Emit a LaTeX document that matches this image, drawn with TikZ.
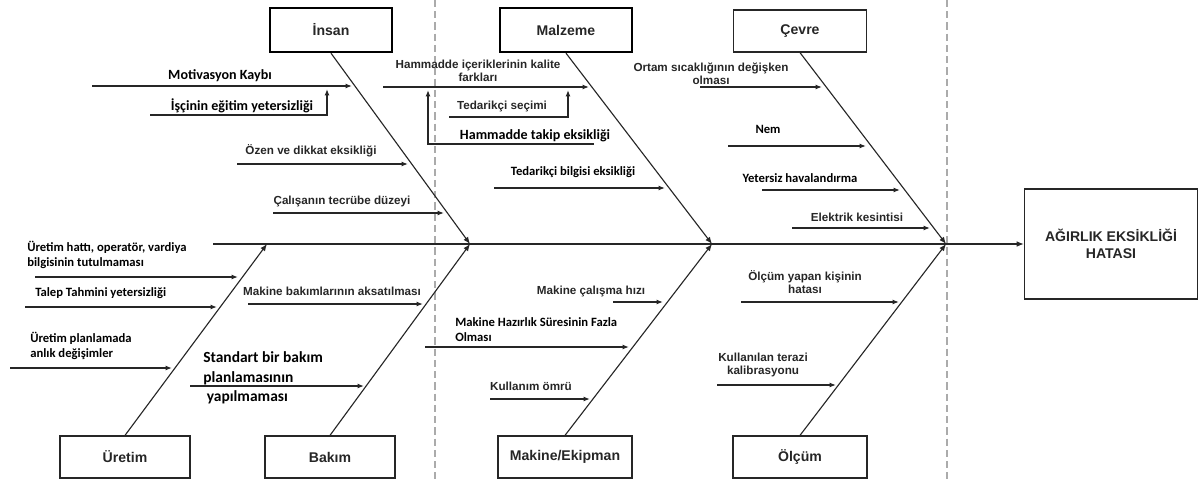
\documentclass[tikz,border=0pt]{standalone}
\usepackage{fontspec}
\setmainfont{Liberation Sans}
\newfontfamily\calfont{Carlito}
\usetikzlibrary{arrows.meta}
\definecolor{ink}{HTML}{262626}
\definecolor{guidegray}{HTML}{ABABAB}

\begin{document}
\begin{tikzpicture}[
  x=0.025cm, y=-0.025cm,
  headbox/.style={draw=black, line width=1.7pt, minimum height=1.1cm, font=\bfseries\fontsize{10}{12}\selectfont, text=ink},
  catbox/.style={draw=ink, line width=0.9pt, minimum height=1.05cm, font=\bfseries\fontsize{10}{12}\selectfont, text=ink},
  effect/.style={draw=ink, line width=0.9pt, minimum width=4.33cm, minimum height=2.75cm, align=center, font=\bfseries\fontsize{10}{12}\selectfont, text=ink},
  bone/.style={draw=ink, line width=0.8pt, -{Latex[length=5pt,width=4pt]}},
  arrow/.style={draw=ink, line width=1pt, -{Latex[length=4.5pt,width=3.5pt]}},
  lbl/.style={font=\bfseries\fontsize{8.3}{9.6}\selectfont, text=ink, align=center, inner sep=0pt},
  clbl/.style={font=\calfont\bfseries\fontsize{9}{10.6}\selectfont, text=black, align=center, inner sep=0pt},
  guide/.style={draw=guidegray, line width=0.8pt, dash pattern=on 5pt off 3pt}
]
\useasboundingbox (0,0) rectangle (1200,479);

% dashed guides
\draw[guide] (435,0) -- (435,479);
\draw[guide] (947,0) -- (947,479);

% category boxes
\node[headbox, minimum width=3.05cm] (insan) at (331,30) {İnsan};
\node[headbox, minimum width=3.3cm] (malzeme) at (566,30) {Malzeme};
\node[catbox, minimum width=3.33cm] (cevre) at (800,31) {Çevre};
\node[catbox, minimum width=3.25cm] (uretim) at (125,457) {Üretim};
\node[catbox, minimum width=3.25cm] (bakim) at (330,457) {Bakım};
\node[catbox, minimum width=3.35cm] (makine) at (565,457) {Makine/Ekipman};
\node[catbox, minimum width=3.35cm] (olcum) at (800,457) {Ölçüm};
\node[effect] (hata) at (1111,244) {AĞIRLIK EKSİKLİĞİ\\HATASI};

% spine and bones
\coordinate (tail) at (213,244);
\coordinate (jU) at (267,244);
\coordinate (jI) at (470,244);
\coordinate (jM) at (712,244);
\coordinate (jC) at (946,244);
\draw[bone] (tail) -- (hata.west);
\draw[bone] (insan.south) -- (jI);
\draw[bone] (malzeme.south) -- (jM);
\draw[bone] (cevre.south) -- (jC);
\draw[bone] (uretim.north) -- (jU);
\draw[bone] (bakim.north) -- (jI);
\draw[bone] (makine.north) -- (jM);
\draw[bone] (olcum.north) -- (jC);

% Insan
\node[clbl, font=\calfont\bfseries\fontsize{10}{12}\selectfont] (tmot) at (220,76) {Motivasyon Kaybı};
\node[clbl, font=\calfont\bfseries\fontsize{10}{12}\selectfont] (tisc) at (242,106) {İşçinin eğitim yetersizliği};
\node[lbl] (tozen) at (311,151) {Özen ve dikkat eksikliği};
\node[lbl] (tcal) at (342,201) {Çalışanın tecrübe düzeyi};
\coordinate (mot0) at (92,86);   \coordinate (mot1) at (352,86);
\coordinate (isc0) at (150,115); \coordinate (isc1) at (327,89);
\coordinate (ozen0) at (237,164); \coordinate (ozen1) at (408,164);
\coordinate (cal0) at (273,213); \coordinate (cal1) at (444,213);
\draw[arrow] (mot0) -- (mot1);
\draw[arrow] (isc0) -| (isc1);
\draw[arrow] (ozen0) -- (ozen1);
\draw[arrow] (cal0) -- (cal1);

% Malzeme
\node[lbl] (tham) at (478,71) {Hammadde içeriklerinin kalite\\farkları};
\node[lbl] (tted) at (502,106) {Tedarikçi seçimi};
\node[clbl, font=\calfont\bfseries\fontsize{10}{12}\selectfont] (ttak) at (535,136) {Hammadde takip eksikliği};
\node[clbl] (tbil) at (573,172) {Tedarikçi bilgisi eksikliği};
\coordinate (ham0) at (383,87); \coordinate (ham1) at (589,87);
\coordinate (ted0) at (449,117); \coordinate (ted1) at (568,90);
\coordinate (tak0) at (594,144); \coordinate (tak1) at (428,90);
\coordinate (bil0) at (494,188); \coordinate (bil1) at (665,188);
\draw[arrow] (ham0) -- (ham1);
\draw[arrow] (ted0) -| (ted1);
\draw[arrow] (tak0) -| (tak1);
\draw[arrow] (bil0) -- (bil1);

% Cevre
\node[lbl] (tort) at (711,74) {Ortam sıcaklığının değişken\\olması};
\node[clbl] (tnem) at (768,129) {Nem};
\node[clbl] (thav) at (800,178) {Yetersiz havalandırma};
\node[lbl] (tele) at (857,217) {Elektrik kesintisi};
\coordinate (ort0) at (700,87); \coordinate (ort1) at (822,87);
\coordinate (nem0) at (728,146); \coordinate (nem1) at (866,146);
\coordinate (hav0) at (762,190); \coordinate (hav1) at (900,190);
\coordinate (ele0) at (792,228); \coordinate (ele1) at (930,228);
\draw[arrow] (ort0) -- (ort1);
\draw[arrow] (nem0) -- (nem1);
\draw[arrow] (hav0) -- (hav1);
\draw[arrow] (ele0) -- (ele1);

% Uretim
\node[clbl, anchor=west, align=left] (that) at (27,255) {Üretim hattı, operatör, vardiya\\bilgisinin tutulmaması};
\node[clbl, anchor=west] (ttal) at (35,293) {Talep Tahmini yetersizliği};
\node[clbl, anchor=west, align=left] (tpla) at (30,346) {Üretim planlamada\\anlık değişimler};
\coordinate (hat0) at (35,277); \coordinate (hat1) at (238,277);
\coordinate (tal0) at (25,307); \coordinate (tal1) at (217,307);
\coordinate (pla0) at (10,368); \coordinate (pla1) at (172,368);
\draw[arrow] (hat0) -- (hat1);
\draw[arrow] (tal0) -- (tal1);
\draw[arrow] (pla0) -- (pla1);

% Bakim
\node[lbl] (tbak) at (332,291) {Makine bakımlarının aksatılması};
\node[clbl, anchor=west, align=left, font=\calfont\bfseries\fontsize{11}{13.8}\selectfont] (tstd) at (203,378) {Standart bir bakım\\planlamasının\\\hspace{2.5pt}yapılmaması};
\coordinate (bak0) at (248,304); \coordinate (bak1) at (423,304);
\coordinate (std0) at (190,386); \coordinate (std1) at (364,386);
\draw[arrow] (bak0) -- (bak1);
\draw[arrow] (std0) -- (std1);

% Makine/Ekipman
\node[lbl] (thiz) at (591,291) {Makine çalışma hızı};
\node[clbl, anchor=west, align=left] (thaz) at (455,330) {Makine Hazırlık Süresinin Fazla\\Olması};
\node[lbl] (tomr) at (531,386) {Kullanım ömrü};
\coordinate (hiz0) at (613,302); \coordinate (hiz1) at (663,302);
\coordinate (haz0) at (425,347); \coordinate (haz1) at (629,347);
\coordinate (omr0) at (490,399); \coordinate (omr1) at (590,399);
\draw[arrow] (hiz0) -- (hiz1);
\draw[arrow] (haz0) -- (haz1);
\draw[arrow] (omr0) -- (omr1);

% Olcum
\node[lbl] (tkis) at (805,282) {Ölçüm yapan kişinin\\hatası};
\node[lbl] (tter) at (763,365) {Kullanılan terazi\\kalibrasyonu};
\coordinate (kis0) at (741,302); \coordinate (kis1) at (899,302);
\coordinate (ter0) at (717,385); \coordinate (ter1) at (836,385);
\draw[arrow] (kis0) -- (kis1);
\draw[arrow] (ter0) -- (ter1);
\end{tikzpicture}
\end{document}
